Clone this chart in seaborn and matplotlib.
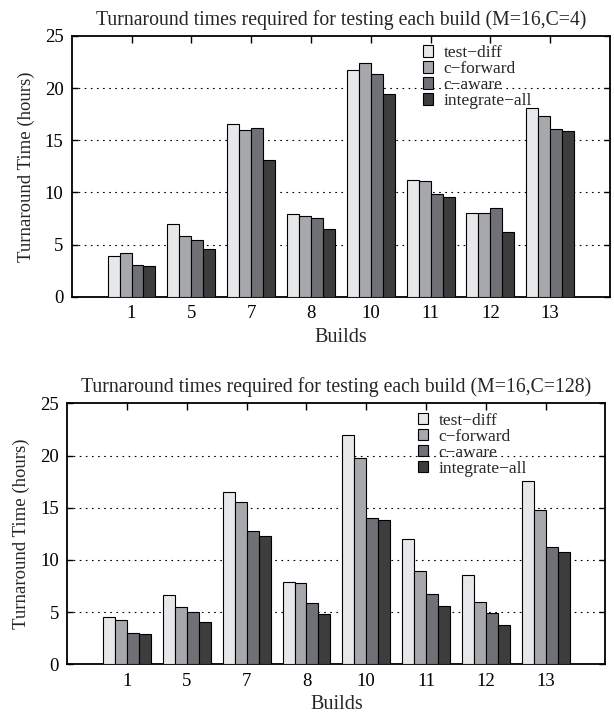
import matplotlib
matplotlib.use("Agg")
import matplotlib.pyplot as plt
from matplotlib.patches import Patch
import seaborn as sns
import pandas as pd

builds = ["1", "5", "7", "8", "10", "11", "12", "13"]
methods = ["test\u2212diff", "c\u2212forward", "c\u2212aware", "integrate\u2212all"]

# Top chart (M=16, C=4)
c4_test_diff = [3.9, 7.0, 16.6, 7.9, 21.7, 11.2, 8.0, 18.1]
c4_c_forward = [4.2, 5.8, 16.0, 7.7, 22.4, 11.1, 8.0, 17.3]
c4_c_aware = [3.0, 5.4, 16.2, 7.5, 21.4, 9.8, 8.5, 16.1]
c4_integrate_all = [2.9, 4.6, 13.1, 6.5, 19.4, 9.6, 6.2, 15.9]

# Bottom chart (M=16, C=128)
c128_test_diff = [4.5, 6.6, 16.5, 7.9, 22.0, 12.0, 8.6, 17.6]
c128_c_forward = [4.2, 5.5, 15.6, 7.8, 19.8, 8.9, 6.0, 14.8]
c128_c_aware = [3.0, 5.0, 12.8, 5.9, 14.0, 6.7, 4.9, 11.2]
c128_integrate_all = [2.9, 4.1, 12.3, 4.8, 13.8, 5.6, 3.8, 10.8]

titles = ["Turnaround times required for testing each build (M=16,C=4)",
          "Turnaround times required for testing each build (M=16,C=128)"]
palette = ["#e7e8ea", "#a7a8ac", "#6f7176", "#3d3d3e"]


def make_df(series):
    rows = []
    for m, vals in zip(methods, series):
        for b, v in zip(builds, vals):
            rows.append({"Build": b, "Method": m, "Time": v})
    return pd.DataFrame(rows)


sns.set_theme(style="ticks")
plt.rcParams["font.family"] = ["Liberation Serif", "DejaVu Serif"]
plt.rcParams["axes.unicode_minus"] = True

fig = plt.figure(figsize=(6.14, 7.14), dpi=100)
ax_top = fig.add_axes([0.1168, 0.5845, 0.8767, 0.3651])
ax_bot = fig.add_axes([0.1096, 0.0696, 0.8765, 0.3653])

datasets = [
    [c4_test_diff, c4_c_forward, c4_c_aware, c4_integrate_all],
    [c128_test_diff, c128_c_forward, c128_c_aware, c128_integrate_all],
]
legend_x = [0.652, 0.651]

for ax, series, title, lx in zip([ax_top, ax_bot], datasets, titles, legend_x):
    df = make_df(series)
    sns.barplot(data=df, x="Build", y="Time", hue="Method", hue_order=methods,
                order=builds, palette=palette, edgecolor="black", linewidth=0.8,
                width=0.8, saturation=1, legend=False, ax=ax, zorder=3)
    ax.set_xlim(-1, 8)
    ax.set_ylim(0, 25)
    ax.set_yticks([0, 5, 10, 15, 20, 25])
    for yv in [5, 10, 15, 20]:
        ax.axhline(yv, color="black", linestyle=(0, (1.5, 4)), linewidth=0.8, zorder=1)
    for s in ax.spines.values():
        s.set_visible(True)
        s.set_linewidth(1.3)
        s.set_color("black")
    ax.tick_params(axis="x", top=True, bottom=False, direction="in", length=5,
                   width=1, labelsize=13.5, pad=6, colors="black")
    ax.tick_params(axis="y", left=True, right=True, direction="in", length=4,
                   width=1, labelsize=13.5, pad=6, colors="black")
    ax.set_xlabel("Builds", fontsize=14.5, labelpad=4)
    ax.set_ylabel("Turnaround Time (hours)", fontsize=13.5, labelpad=7)
    ax.set_title(title, fontsize=14.2, pad=8)
    handles = [Patch(facecolor=c, edgecolor="black", linewidth=0.8) for c in palette]
    ax.legend(handles, methods, loc="upper left", bbox_to_anchor=(lx, 0.965),
              frameon=False, fontsize=12.5, handlelength=0.6, handleheight=0.6,
              handletextpad=0.6, labelspacing=0.0, borderaxespad=0, borderpad=0)

fig.savefig("out.png", dpi=100)
